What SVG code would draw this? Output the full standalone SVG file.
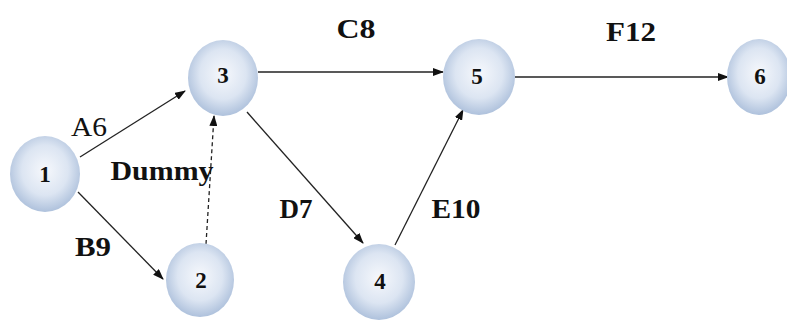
<svg xmlns="http://www.w3.org/2000/svg" width="787" height="320" viewBox="0 0 787 320">
<defs>
<radialGradient id="g" cx="50%" cy="45%" r="55%">
<stop offset="0" stop-color="#f6f8fc"/>
<stop offset="0.6" stop-color="#dce5f2"/>
<stop offset="1" stop-color="#aec1dc"/>
</radialGradient>
<marker id="ah" markerWidth="11" markerHeight="8" refX="10" refY="4" orient="auto" markerUnits="userSpaceOnUse">
<path d="M0,0 L11,4 L0,8 z" fill="#111"/>
</marker>
</defs>
<style>
.n{fill:url(#g);stroke:none}
.nt{font-family:"Liberation Serif",serif;font-weight:bold;font-size:23px;fill:#111;text-anchor:middle}
.e{stroke:#222;stroke-width:1.3;fill:none;marker-end:url(#ah)}
.d{stroke-dasharray:4,3}
.l{font-family:"Liberation Serif",serif;font-weight:bold;font-size:28px;fill:#111;text-anchor:middle}
.s{font-size:27px}
.r{font-weight:normal}
</style>
<g id="edges">
<line class="e" x1="80" y1="157" x2="185" y2="91"/>
<line class="e" x1="78" y1="192" x2="163" y2="279"/>
<line class="e d" x1="206" y1="244" x2="214" y2="116"/>
<line class="e" x1="258" y1="72" x2="443" y2="72"/>
<line class="e" x1="247" y1="112" x2="363" y2="243"/>
<line class="e" x1="395" y1="245" x2="463" y2="110"/>
<line class="e" x1="515" y1="77" x2="728" y2="77"/>
</g>
<g id="labels">
<text class="l r" x="89" y="136" textLength="36" lengthAdjust="spacingAndGlyphs">A6</text>
<text class="l s" x="162" y="180" textLength="103" lengthAdjust="spacingAndGlyphs">Dummy</text>
<text class="l s" x="93" y="256" textLength="36" lengthAdjust="spacingAndGlyphs">B9</text>
<text class="l" x="356" y="38" textLength="39" lengthAdjust="spacingAndGlyphs">C8</text>
<text class="l s" x="296" y="218" textLength="33" lengthAdjust="spacingAndGlyphs">D7</text>
<text class="l s" x="456" y="218" textLength="49" lengthAdjust="spacingAndGlyphs">E10</text>
<text class="l" x="631" y="41" textLength="50" lengthAdjust="spacingAndGlyphs">F12</text>
</g>
<g id="node1"><ellipse class="n" cx="45" cy="174" rx="35" ry="38"/><text class="nt" x="45" y="182">1</text></g>
<g id="node2"><ellipse class="n" cx="200" cy="280" rx="34" ry="37"/><text class="nt" x="201" y="288">2</text></g>
<g id="node3"><ellipse class="n" cx="223" cy="78" rx="35" ry="38"/><text class="nt" x="223" y="83">3</text></g>
<g id="node4"><ellipse class="n" cx="379" cy="282" rx="36" ry="38"/><text class="nt" x="380" y="289">4</text></g>
<g id="node5"><ellipse class="n" cx="479" cy="77" rx="36" ry="38"/><text class="nt" x="477" y="84">5</text></g>
<g id="node6"><ellipse class="n" cx="759" cy="77" rx="32" ry="38"/><text class="nt" x="760" y="84">6</text></g>
</svg>
